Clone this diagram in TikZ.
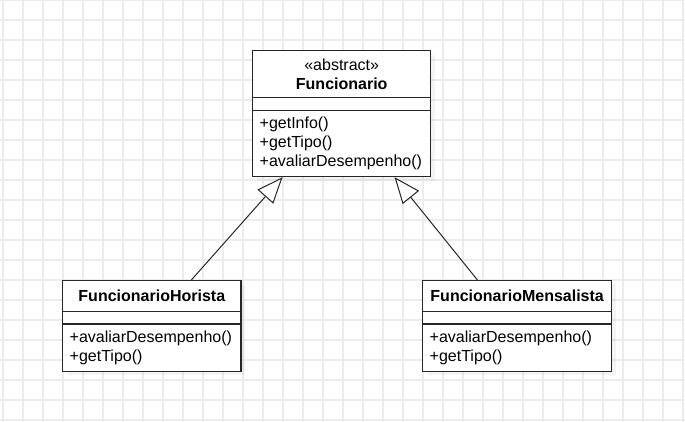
\documentclass[tikz,border=0pt]{standalone}
\usepackage{fontspec}
\setmainfont{Liberation Sans}
\usetikzlibrary{positioning, calc, shadows, arrows.meta}

\newcommand{\umlfont}{\fontsize{16}{18.7}\selectfont}

\tikzset{
  gridline/.style={draw=gray!15, line width=1.2pt},
  classbox/.style={draw=black!85, line width=1.2pt, fill=white, inner sep=0pt, anchor=north,
    drop shadow={opacity=0.09, shadow xshift=4pt, shadow yshift=-4pt}, font=\umlfont},
  classname/.style={classbox, align=center},
  classops/.style={classbox, align=left, inner xsep=7pt},
  inherit/.style={draw=black!85, line width=1pt,
    -{Triangle[length=26pt, width=21pt, fill=white]}}
}

\begin{document}
\begin{tikzpicture}[x=1pt, y=-1pt]
  \useasboundingbox (0,0) rectangle (685,422);
  % Raster
  \foreach \gx in {3,23,...,683} \draw[gridline] (\gx,0) -- (\gx,422);
  \foreach \gy in {0,20,...,420} \draw[gridline] (0,\gy) -- (685,\gy);

  % Funcionario
  \node[classname, minimum width=178pt, minimum height=47.3pt] (func) at (341.7,50)
    {«abstract»\\\textbf{Funcionario}};
  \node[classbox, minimum width=178pt, minimum height=12.4pt] (funcAttr) at (341.7,97.3) {};
  \node[classops, text width=164pt, minimum height=66.3pt] (funcOps) at (341.7,109.7)
    {+getInfo()\\+getTipo()\\+avaliarDesempenho()};

  % FuncionarioHorista
  \node[classname, minimum width=178.3pt, minimum height=31pt] (hor) at (151.85,280)
    {\textbf{FuncionarioHorista}};
  \node[classbox, minimum width=178.3pt, minimum height=12.3pt] (horAttr) at (151.85,311) {};
  \node[classops, text width=164.3pt, minimum height=47.4pt] (horOps) at (151.85,323.3)
    {+avaliarDesempenho()\\+getTipo()};

  % FuncionarioMensalista
  \node[classname, minimum width=189pt, minimum height=31pt] (men) at (517.2,280)
    {\textbf{FuncionarioMensalista}};
  \node[classbox, minimum width=189pt, minimum height=12.3pt] (menAttr) at (517.2,311) {};
  \node[classops, text width=175pt, minimum height=47.4pt] (menOps) at (517.2,323.3)
    {+avaliarDesempenho()\\+getTipo()};

  % Vererbung
  \draw[inherit] ($(hor.north west)!0.72!(hor.north east)$)
    -- ($(funcOps.south west)!0.17!(funcOps.south east)$);
  \draw[inherit] ($(men.north west)!0.291!(men.north east)$)
    -- ($(funcOps.south west)!0.795!(funcOps.south east)$);
\end{tikzpicture}
\end{document}
